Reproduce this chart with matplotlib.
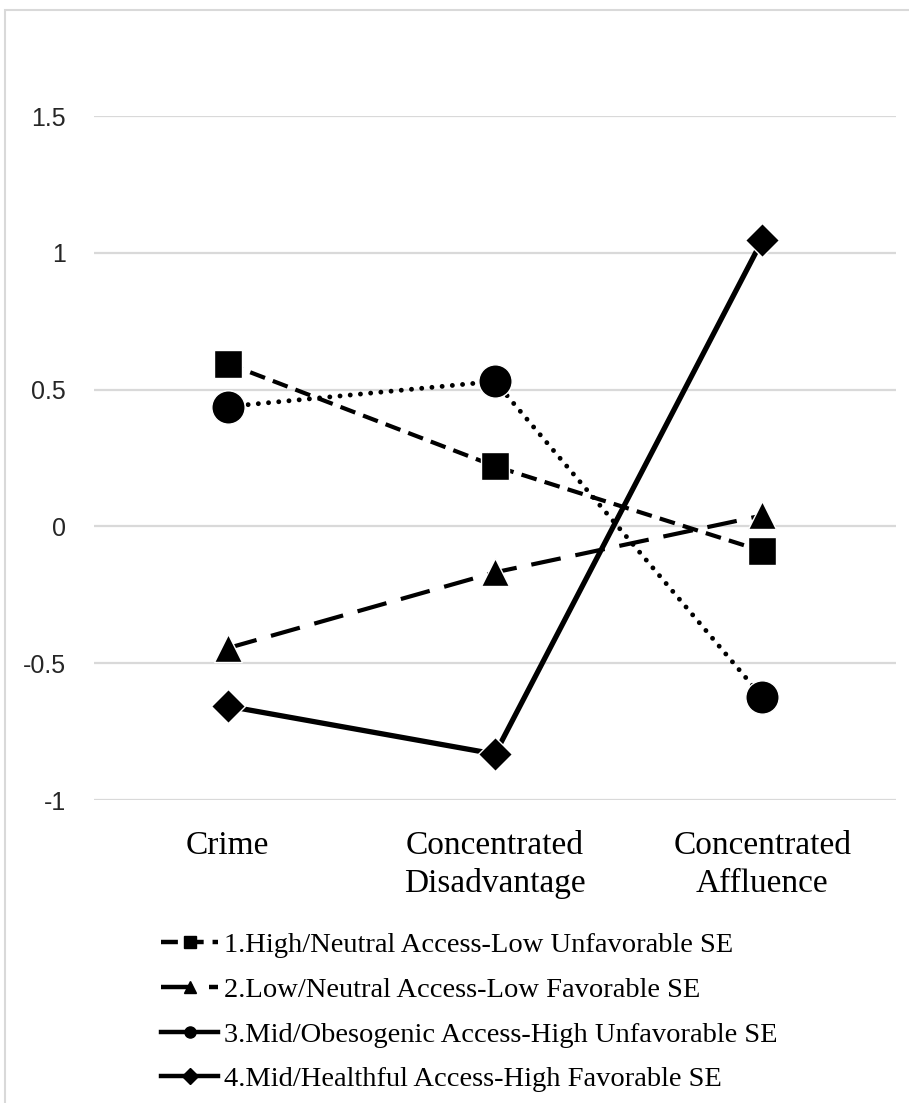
import matplotlib.pyplot as plt
from matplotlib.lines import Line2D
from matplotlib.patches import Rectangle

categories = ["Crime", "Concentrated\nDisadvantage", "Concentrated\nAffluence"]
labels = [
    "1.High/Neutral Access-Low Unfavorable SE",
    "2.Low/Neutral Access-Low Favorable SE",
    "3.Mid/Obesogenic Access-High Unfavorable SE",
    "4.Mid/Healthful Access-High Favorable SE",
]
high_neutral = [0.595, 0.22, -0.09]
low_neutral = [-0.445, -0.168, 0.04]
mid_obesogenic = [0.438, 0.53, -0.624]
mid_healthful = [-0.657, -0.832, 1.047]
yticks = [-1, -0.5, 0, 0.5, 1, 1.5]
ytick_labels = ["-1", "-0.5", "0", "0.5", "1", "1.5"]

# line style, marker, marker size, line width for each group
styles = [
    dict(ls=(0, (3.8, 2.0)), marker="s", ms=20, lw=3.0),
    dict(ls=(0, (7.2, 3.6)), marker="^", ms=20, lw=3.0),
    dict(ls=(0, (0.01, 2.1)), marker="o", ms=24, lw=3.5),
    dict(ls="-", marker="D", ms=17, lw=3.8),
]
series = [high_neutral, low_neutral, mid_obesogenic, mid_healthful]

fig = plt.figure(figsize=(9.09, 11.03), dpi=100)
ax = fig.add_axes([94 / 909, 1 - 800 / 1103, 802 / 909, 684 / 1103])

x = range(len(categories))
for vals, st in zip(series, styles):
    ax.plot(x, vals, color="black", linestyle=st["ls"], linewidth=st["lw"],
            marker=st["marker"], markersize=st["ms"], markerfacecolor="black",
            markeredgecolor="white", markeredgewidth=1.0,
            dash_capstyle="round" if st["marker"] == "o" else "butt",
            solid_capstyle="butt", zorder=3)

ax.set_xlim(-0.5, 2.5)
ax.set_ylim(-1, 1.5)
ax.set_yticks(yticks)
ax.set_yticklabels(ytick_labels, fontfamily="Liberation Sans", fontsize=18, color="#262626")
ax.set_xticks(list(x))
ax.set_xticklabels(categories, fontfamily="Liberation Serif", fontsize=24, linespacing=1.3)
ax.tick_params(axis="y", length=0, pad=20)
ax.tick_params(axis="x", length=0, pad=22)
ax.grid(axis="y", color="#d9d9d9", linewidth=1.6)
ax.set_axisbelow(True)
for sp in ax.spines.values():
    sp.set_visible(False)

# legend keys with small markers
handles = []
for st in styles:
    handles.append(Line2D([], [], color="black", linestyle=st["ls"] if st["marker"] != "o" else "-",
                          linewidth=3.2, marker=st["marker"], markersize=8,
                          markerfacecolor="black", markeredgecolor="black"))
fig.legend(handles, labels, loc="upper left", bbox_to_anchor=(147 / 909, 1 - 918 / 1103),
           frameon=False, prop={"family": "Liberation Serif", "size": 20.5},
           handlelength=2.0, handletextpad=0.2, labelspacing=0.66, borderpad=0)

# light outer frame around the chart
fig.patches.append(Rectangle((5 / 909, -0.05), 1.2, 1 - 10 / 1103 + 0.05,
                             transform=fig.transFigure, fill=False,
                             edgecolor="#d9d9d9", linewidth=1.5))

fig.savefig("out.png", dpi=100)
